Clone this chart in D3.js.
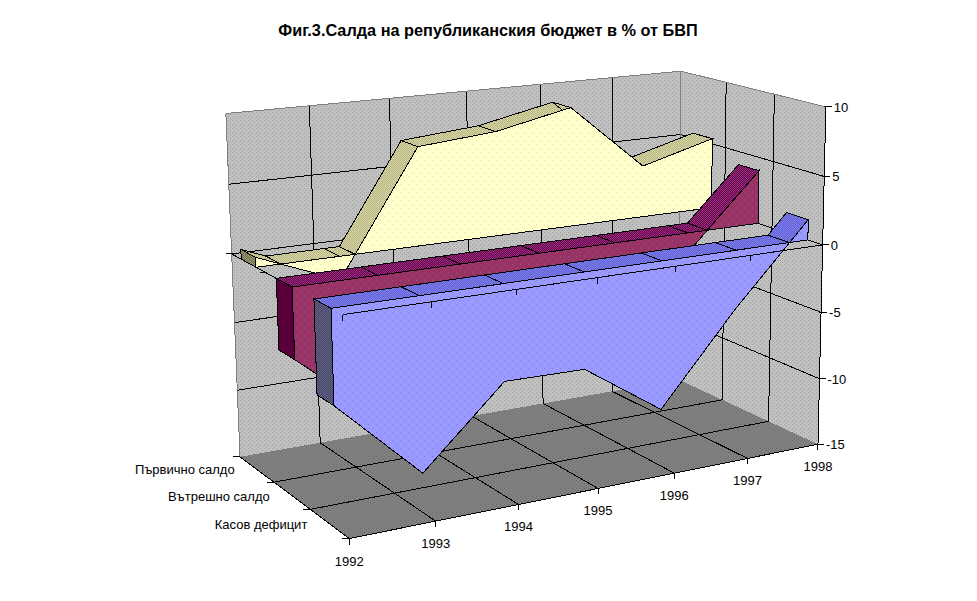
<!DOCTYPE html>
<html>
<head>
<meta charset="utf-8">
<script src="https://cdn.jsdelivr.net/npm/d3@7"></script>
<style>
  body { margin: 0; background: #fff; }
  text { font-family: "Liberation Sans", Arial, sans-serif; font-size: 13px; fill: #000; }
  .title { font-size: 16.3px; font-weight: bold; }
</style>
</head>
<body>
<svg id="chart" width="977" height="601"></svg>
<script>
const years = [1992, 1993, 1994, 1995, 1996, 1997, 1998];
const seriesNames = ["Касов дефицит", "Вътрешно салдо", "Първично салдо"];
const cashDeficit = [-6.5, -12.2, -6.8, -6.9, -10.8, -4.3, 1.5];
const domesticBalance = [-5, -10, -7.5, -7, -8, -1.5, 4];
const primaryBalance = [0.7, -1.7, 7.2, 7.7, 8.9, 3.9, 5.4];
const valueTicks = [10, 5, 0, -5, -10, -15];

const svg = d3.select("#chart");
const defs = svg.append("defs");

// scales go to the unit cube, the camera below takes it to the screen
const xScale = d3.scaleLinear().domain([1992, 1998]).range([0, 1]);
const yScale = d3.scaleLinear().domain([-15, 10]).range([0, 1]);
const zScale = d3.scaleLinear().domain([0, 3]).range([0, 1]);

// where the chart box sits on the screen: [cube x, y, z, screen x, screen y]
const calibration = [
  [0, 0, 0, 350, 541], [1, 0, 0, 816, 443], [0, 0, 1, 240, 455], [1, 0, 1, 684, 382],
  [0, 1, 1, 226, 113], [1, 1, 1, 678, 72], [1, 1, 0, 829, 106],
  [1, 0.8, 0, 825, 176], [1, 0.6, 0, 823, 245], [1, 0.2, 0, 818, 378],
  [0.5, 0, 0, 598, 488], [4 / 6, 0, 0, 674, 473], [5 / 6, 0, 0, 746, 458],
  [0, 0, 1 / 3, 308, 510], [0, 0, 2 / 3, 273, 481],
  [0, 0.6, 0, 345, 317], [0, 0.6, 1, 232, 253],
  [2 / 6, 1, 1, 391, 98], [3 / 6, 1, 1, 466, 91], [4 / 6, 1, 1, 540, 84.5], [5 / 6, 1, 1, 610, 78]
];

function solveCamera(points) {
  // least squares fit of the 11 projective parameters
  const rows = [];
  points.forEach(([x, y, z, sx, sy]) => {
    const px = sx / 1000, py = sy / 1000;
    rows.push([x, y, z, 1, 0, 0, 0, 0, -px * x, -px * y, -px * z, px]);
    rows.push([0, 0, 0, 0, x, y, z, 1, -py * x, -py * y, -py * z, py]);
  });
  const n = 11;
  const m = d3.range(n).map(i => d3.range(n + 1).map(j =>
    d3.sum(rows, r => r[i] * r[j])));
  for (let i = 0; i < n; i++) {
    let best = i;
    for (let k = i + 1; k < n; k++) if (Math.abs(m[k][i]) > Math.abs(m[best][i])) best = k;
    [m[i], m[best]] = [m[best], m[i]];
    for (let k = 0; k < n; k++) {
      if (k === i) continue;
      const f = m[k][i] / m[i][i];
      for (let j = i; j <= n; j++) m[k][j] -= f * m[i][j];
    }
  }
  return m.map((r, i) => r[n] / r[i]);
}
const cam = solveCamera(calibration);

function cube(x, y, z) {
  const d = cam[8] * x + cam[9] * y + cam[10] * z + 1;
  return [1000 * (cam[0] * x + cam[1] * y + cam[2] * z + cam[3]) / d,
          1000 * (cam[4] * x + cam[5] * y + cam[6] * z + cam[7]) / d];
}
// data coordinates: year, value, depth in series cells
const project = (year, value, depth) => cube(xScale(year), yScale(value), zScale(depth));

function addPattern(id, base, dot, size, cells) {
  const p = defs.append("pattern").attr("id", id)
    .attr("patternUnits", "userSpaceOnUse").attr("width", size).attr("height", size);
  p.append("rect").attr("width", size).attr("height", size).attr("fill", base);
  cells.forEach(c => p.append("rect").attr("x", c[0]).attr("y", c[1])
    .attr("width", 1).attr("height", 1).attr("fill", dot));
}
const sparse = [[0, 0], [2, 2]];
const checker = [[0, 0], [1, 1]];
addPattern("wall", "#c0c0c0", "#a0a0a0", 4, sparse);
addPattern("floor", "#808080", "#6c6c6c", 4, sparse);
addPattern("blueFront", "#9999ff", "#8080e0", 8, [[0, 0], [4, 4]]);
addPattern("blueTop", "#6464dc", "#7c7ce4", 2, checker);
addPattern("blueSide", "#44446e", "#646480", 2, checker);
addPattern("maroonFront", "#993366", "#7f5f90", 8, [[0, 0], [4, 4]]);
addPattern("maroonTop", "#660066", "#993366", 2, checker);
addPattern("maroonSide", "#660033", "#4d0040", 2, checker);
addPattern("yellowFront", "#ffffcc", "#e4e4b0", 8, [[0, 0], [4, 4]]);
addPattern("yellowTop", "#d4d4a8", "#b8b880", 2, checker);
addPattern("yellowSide", "#99996e", "#707050", 2, checker);

const styles = [
  { front: "url(#blueFront)", top: "url(#blueTop)", side: "url(#blueSide)" },
  { front: "url(#maroonFront)", top: "url(#maroonTop)", side: "url(#maroonSide)" },
  { front: "url(#yellowFront)", top: "url(#yellowTop)", side: "url(#yellowSide)" }
];
const seriesValues = [cashDeficit, domesticBalance, primaryBalance];

const g = svg.append("g");
const pathLine = d3.line();

function face(pts, fill, stroke) {
  return g.append("path").attr("d", pathLine(pts) + "Z")
    .attr("fill", fill).attr("stroke", stroke || "none")
    .attr("stroke-width", 1).attr("shape-rendering", "crispEdges");
}
function seg(a, b, color) {
  g.append("line").attr("x1", a[0]).attr("y1", a[1]).attr("x2", b[0]).attr("y2", b[1])
    .attr("stroke", color || "#000").attr("stroke-width", 1).attr("shape-rendering", "crispEdges");
}

// walls and floor
face([project(1992, -15, 3), project(1998, -15, 3), project(1998, 10, 3), project(1992, 10, 3)], "url(#wall)");
face([project(1998, -15, 3), project(1998, -15, 0), project(1998, 10, 0), project(1998, 10, 3)], "url(#wall)");
face([project(1992, -15, 0), project(1998, -15, 0), project(1998, -15, 3), project(1992, -15, 3)], "url(#floor)");

// gridlines
valueTicks.slice(1, -1).forEach(v => {
  seg(project(1992, v, 3), project(1998, v, 3));
  seg(project(1998, v, 3), project(1998, v, 0));
});
years.slice(1, -1).forEach(y => {
  seg(project(y, -15, 3), project(y, 10, 3));
  seg(project(y, -15, 0), project(y, -15, 3));
});
[1, 2].forEach(d => {
  seg(project(1998, -15, d), project(1998, 10, d));
  seg(project(1992, -15, d), project(1998, -15, d));
});

// box edges
seg(project(1992, -15, 3), project(1992, 10, 3), "#808080");
seg(project(1992, 10, 3), project(1998, 10, 3), "#808080");
seg(project(1998, 10, 3), project(1998, 10, 0), "#808080");
seg(project(1998, -15, 3), project(1998, 10, 3), "#808080");
seg(project(1992, -15, 0), project(1998, -15, 0));
seg(project(1992, -15, 0), project(1992, -15, 3));
seg(project(1998, -15, 0), project(1998, 10, 0));

// value ticks and labels
valueTicks.forEach(v => {
  const p = project(1998, v, 0);
  seg([p[0] - 2, p[1]], [p[0] + 6, p[1]]);
  g.append("text").attr("x", p[0] + 8).attr("y", p[1] + 5).text(v);
});

// year ticks and labels along the floor
years.forEach(y => {
  const p = project(y, -15, 0);
  seg(p, [p[0], p[1] + 6]);
  g.append("text").attr("x", p[0]).attr("y", p[1] + 27).attr("text-anchor", "middle").text(y);
});

// series ticks and labels
d3.range(0, 4).forEach(d => {
  const p = project(1992, -15, d);
  seg([p[0] - 7, p[1]], p);
});
seriesNames.forEach((name, i) => {
  const p = project(1992, -15, i + 0.5);
  g.append("text").attr("x", p[0] - 22).attr("y", p[1] + 5).attr("text-anchor", "end").text(name);
});

// depth axis at zero, behind the slabs
seg(project(1992, 0, 0), project(1992, 0, 3));
d3.range(0, 4).forEach(d => {
  const p = project(1992, 0, d);
  seg([p[0] - 6, p[1]], p);
});

const halfDepth = 0.215;

function drawSlab(values, i) {
  const zFront = i + 0.5 - halfDepth, zBack = i + 0.5 + halfDepth;
  const s = styles[i];

  // value line with the zero crossings added, needed where the top face changes plane
  const outline = [];
  values.forEach((v, k) => {
    outline.push([years[k], v]);
    if (k < values.length - 1 && v * values[k + 1] < 0) {
      const t = v / (v - values[k + 1]);
      outline.push([years[k] + t, 0]);
    }
  });

  // left end
  face([project(1992, 0, zBack), project(1992, 0, zFront),
        project(1992, values[0], zFront), project(1992, values[0], zBack)], s.side, "#000");

  // top faces
  for (let k = 0; k < outline.length - 1; k++) {
    const a = outline[k], b = outline[k + 1];
    const ay = Math.max(a[1], 0), by = Math.max(b[1], 0);
    face([project(a[0], ay, zFront), project(b[0], by, zFront),
          project(b[0], by, zBack), project(a[0], ay, zBack)], s.top, "#000");
  }

  // front face
  const front = outline.map(d => project(d[0], d[1], zFront));
  front.push(project(1998, 0, zFront), project(1992, 0, zFront));
  face(front, s.front, "#000");
}

[2, 1, 0].forEach(i => drawSlab(seriesValues[i], i));

// category axis at zero runs in front of everything
seg(project(1992, 0, 0), project(1998, 0, 0));
years.forEach(y => {
  const p = project(y, 0, 0);
  seg(p, [p[0], p[1] + 6]);
});

svg.append("text").attr("class", "title").attr("x", 488).attr("y", 36)
  .attr("text-anchor", "middle").text("Фиг.3.Салда на републиканския бюджет в % от БВП");
</script>
</body>
</html>
